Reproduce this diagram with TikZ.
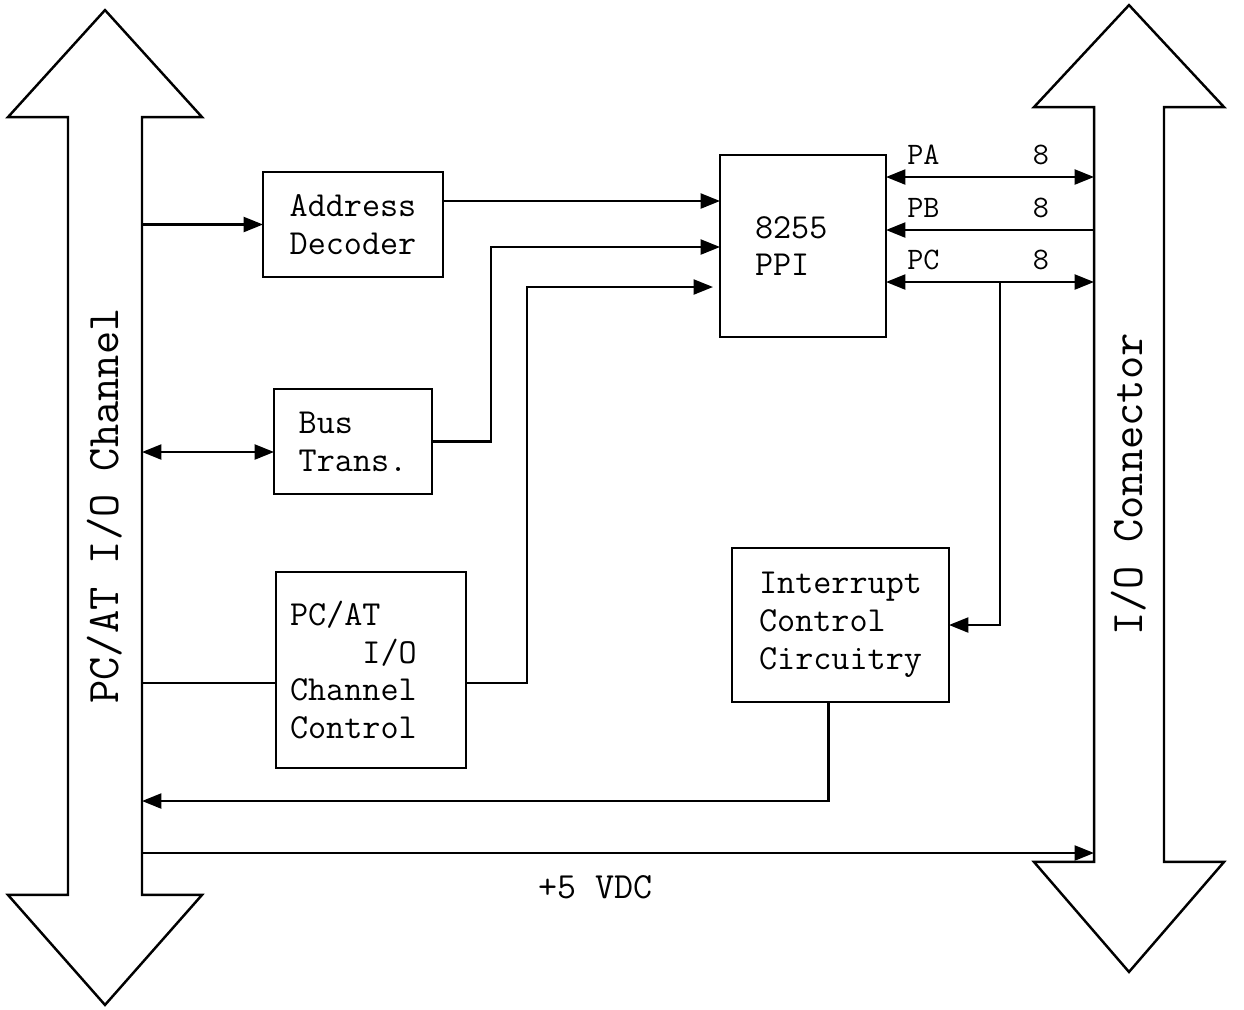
\documentclass[tikz,border=0pt]{standalone}
\usepackage{fontspec}
\usepackage{tikz}
\usetikzlibrary{arrows.meta}

\newcommand\boxfont{\fontsize{20}{21.5}\selectfont\ttfamily}
\newcommand\busfont{\fontsize{25.7}{28}\selectfont\ttfamily}
\newcommand\portfont{\fontsize{17.8}{19}\selectfont\ttfamily}
\newcommand\railfont{\fontsize{21}{23}\selectfont\ttfamily}

\tikzset{
    block/.style={draw, line width=1.2pt, align=left, font=\boxfont, inner sep=0pt, outer sep=0pt},
    shaft/.style={inner sep=0pt, outer sep=0pt, font=\busfont},
    outline/.style={line width=1.4pt, line join=miter},
    wire/.style={line width=1.3pt},
    sig/.style={wire, -{Triangle[length=11pt,width=8.5pt]}},
    sigboth/.style={wire, {Triangle[length=11pt,width=8.5pt]}-{Triangle[length=11pt,width=8.5pt]}},
    port/.style={font=\portfont, above=3pt}
}

\begin{document}
\begin{tikzpicture}[x=0.02cm, y=-0.02cm]
    \useasboundingbox (0,0) rectangle (1244,1009);
    % the two buses
    \node[shaft, minimum width=1.48cm, minimum height=15.56cm] (lbus) at (105,506) {\rotatebox{90}{PC/AT I/O Channel}};
    \node[shaft, minimum width=1.4cm, minimum height=15.1cm] (rbus) at (1129,484.5) {\rotatebox{90}{I/O Connector}};
    \draw[outline] (lbus.south west) -- (lbus.north west) -- ++(-60,0) -- ++(97,-107) -- ++(97,107)
        -- (lbus.north east) -- (lbus.south east) -- ++(60,0) -- ++(-97,110) -- ++(-97,-110) -- cycle;
    \draw[outline] (rbus.south west) -- (rbus.north west) -- ++(-60,0) -- ++(95,-102) -- ++(95,102)
        -- (rbus.north east) -- (rbus.south east) -- ++(60,0) -- ++(-95,110) -- ++(-95,-110) -- cycle;

    % blocks
    \node[block, minimum width=3.6cm, minimum height=2.1cm] (addr) at (353,224.5) {Address\\Decoder};
    \node[block, minimum width=3.16cm, minimum height=2.1cm] (bus) at (353,441.5) {Bus\\Trans.};
    \node[block, text width=3.24cm, inner xsep=0.28cm, minimum height=3.92cm] (chan) at (371,670) {PC/AT\\\phantom{PC/A}I/O\\Channel\\Control};
    \node[block, text width=1.92cm, inner xsep=0.7cm, minimum height=3.64cm] (ppi) at (803,246) {8255\\PPI};
    \node[block, minimum width=4.34cm, minimum height=3.08cm] (intr) at (840.5,625) {Interrupt\\Control\\Circuitry};

    % rows
    \coordinate (r1) at (0,201);
    \coordinate (r2) at (0,247);
    \coordinate (r3) at (0,287);
    \coordinate (r4) at (0,452);
    \coordinate (r5) at (0,683);
    \coordinate (r6) at (0,801);
    \coordinate (r7) at (0,853);
    \coordinate (pa) at (0,177);
    \coordinate (pb) at (0,230);
    \coordinate (pc) at (0,282);

    % PC side
    \draw[sig] (lbus.east |- addr.west) -- (addr.west);
    \draw[sig] (addr.east |- r1) -- (ppi.west |- r1);
    \draw[sig] (bus.east) -- ++(59,0) |- (ppi.west |- r2);
    \draw[sigboth] (lbus.east |- r4) -- (bus.west |- r4);
    \draw[wire] (lbus.east |- r5) -- (chan.west |- r5);
    \draw[sig, shorten >=4pt] (chan.east |- r5) -- ++(61,0) |- (ppi.west |- r3);

    % ports
    \draw[sigboth] (ppi.east |- pa) -- (rbus.west |- pa)
        node[port, pos=0.18] {PA} node[port, pos=0.745] {8};
    \draw[sig] (rbus.west |- pb) -- (ppi.east |- pb)
        node[port, pos=0.82] {PB} node[port, pos=0.255] {8};
    \draw[sigboth] (ppi.east |- pc) -- (rbus.west |- pc)
        node[port, pos=0.18] {PC} node[port, pos=0.745] {8};
    \draw[sig] (ppi.east |- pc) ++(114,0) |- (intr.east);

    % interrupt and power
    \draw[sig] ([xshift=-0.24cm]intr.south) |- (lbus.east |- r6);
    \draw[sig] (lbus.east |- r7) -- (rbus.west |- r7)
        node[pos=0.476, below=9pt, font=\railfont] {+5 VDC};
\end{tikzpicture}
\end{document}
